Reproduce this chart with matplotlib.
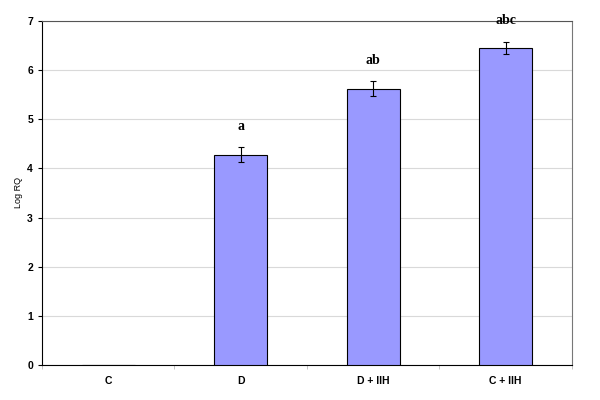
import matplotlib.pyplot as plt
import numpy as np

grupos = ['C', 'D', 'D + IIH', 'C + IIH']
log_rq = [0.0, 4.28, 5.62, 6.45]
erro = [0.0, 0.15, 0.15, 0.125]
letras = ['', 'a', 'ab', 'abc']

fig = plt.figure(figsize=(6, 4), dpi=100)
ax = fig.add_axes([0.07, 0.0875, 0.883, 0.86])

pos = np.arange(len(grupos))
ax.bar(pos, log_rq, width=0.4, color='#9999ff', edgecolor='black', linewidth=0.8, zorder=3)
ax.errorbar(pos[1:], log_rq[1:], yerr=erro[1:], fmt='none', ecolor='black',
            elinewidth=0.8, capsize=2.5, capthick=0.8, zorder=4)

# letras de significancia acima das barras
for i in range(1, len(grupos)):
    ax.text(pos[i], log_rq[i] + erro[i] + 0.3, letras[i], ha='center', va='bottom',
            family=['Liberation Serif', 'DejaVu Serif'], fontweight='bold', fontsize=10, zorder=5)

ax.set_xlim(-0.5, len(grupos) - 0.5)
ax.set_ylim(0, 7)
ax.set_yticks(range(8))
ax.yaxis.grid(True, color='#d9d9d9', linewidth=0.8, zorder=0)
ax.set_xticks(pos)
ax.set_xticklabels(grupos, family='Liberation Sans', fontweight='bold', fontsize=7.5)
ax.set_xticks(np.arange(-0.5, len(grupos)), minor=True)
ax.tick_params(axis='x', which='major', length=0, pad=8)
ax.tick_params(axis='x', which='minor', length=3, color='#bbbbbb')
ax.tick_params(axis='y', length=3, labelsize=7.5)
for lab in ax.get_yticklabels():
    lab.set_family('Liberation Sans')
    lab.set_fontweight('bold')
ax.set_ylabel('Log RQ', family='Liberation Sans', fontsize=6.5, labelpad=3)

ax.spines['left'].set_color('black')
ax.spines['bottom'].set_color('black')
ax.spines['top'].set_color('#555555')
ax.spines['right'].set_color('#777777')

fig.savefig('out.png', dpi=100)
